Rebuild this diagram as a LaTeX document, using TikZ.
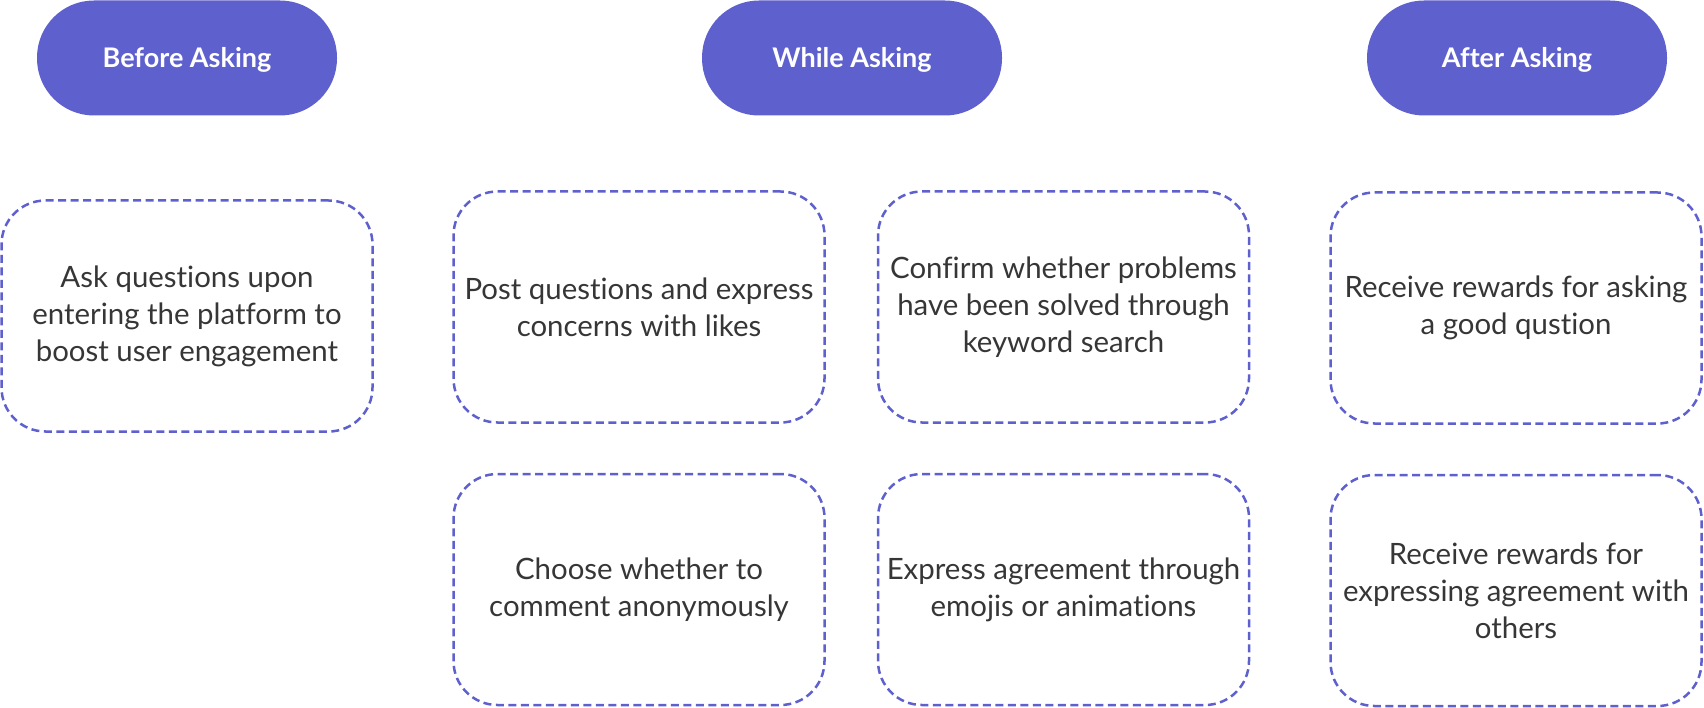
\documentclass[tikz,border=0pt]{standalone}
\usepackage{fontspec}
\setmainfont{Lato}[Ligatures=NoCommon]
\usepackage{tikz}
\usetikzlibrary{positioning}
\definecolor{Iris}{HTML}{5E60CE}
\definecolor{Ink}{HTML}{363636}

\begin{document}
\begin{tikzpicture}[x=1pt, y=-1pt, node distance=49pt and 51pt]
\tikzset{pill/.style={fill=Iris, text=white, rounded corners=57pt, minimum width=300pt, minimum height=115pt, text depth=2pt, font=\fontsize{27}{32}\selectfont\bfseries}, card/.style={draw=Iris, line width=2.5pt, dash pattern=on 8pt off 4.5pt, rounded corners=44pt, align=center, minimum width=371pt, minimum height=231pt, text=Ink, font=\fontsize{29.4}{37}\selectfont}}
\useasboundingbox (0,0) rectangle (1704,708);
\foreach \n/\x/\t in {before/187/Before Asking,while/852/While Asking,after/1517/After Asking} \node[pill] (\n) at (\x,58) {\t};
\node[card] (ask) at (187,316) {Ask questions upon\\entering the platform to\\boost user engagement};
\node[card] (post) at (639,307) {Post questions and express\\concerns with likes};
\node[card, right=of post] (confirm) {Confirm whether problems\\have been solved through\\keyword search};
\node[card] (reward) at (1516,308) {Receive rewards for asking\\a good qustion};
\node[card, below=of post] (anon) {Choose whether to\\comment anonymously};
\node[card, below=of confirm] (emoji) {Express agreement through\\emojis or animations};
\node[card, below=of reward] (agree) {Receive rewards for\\expressing agreement with\\others};
\end{tikzpicture}
\end{document}
